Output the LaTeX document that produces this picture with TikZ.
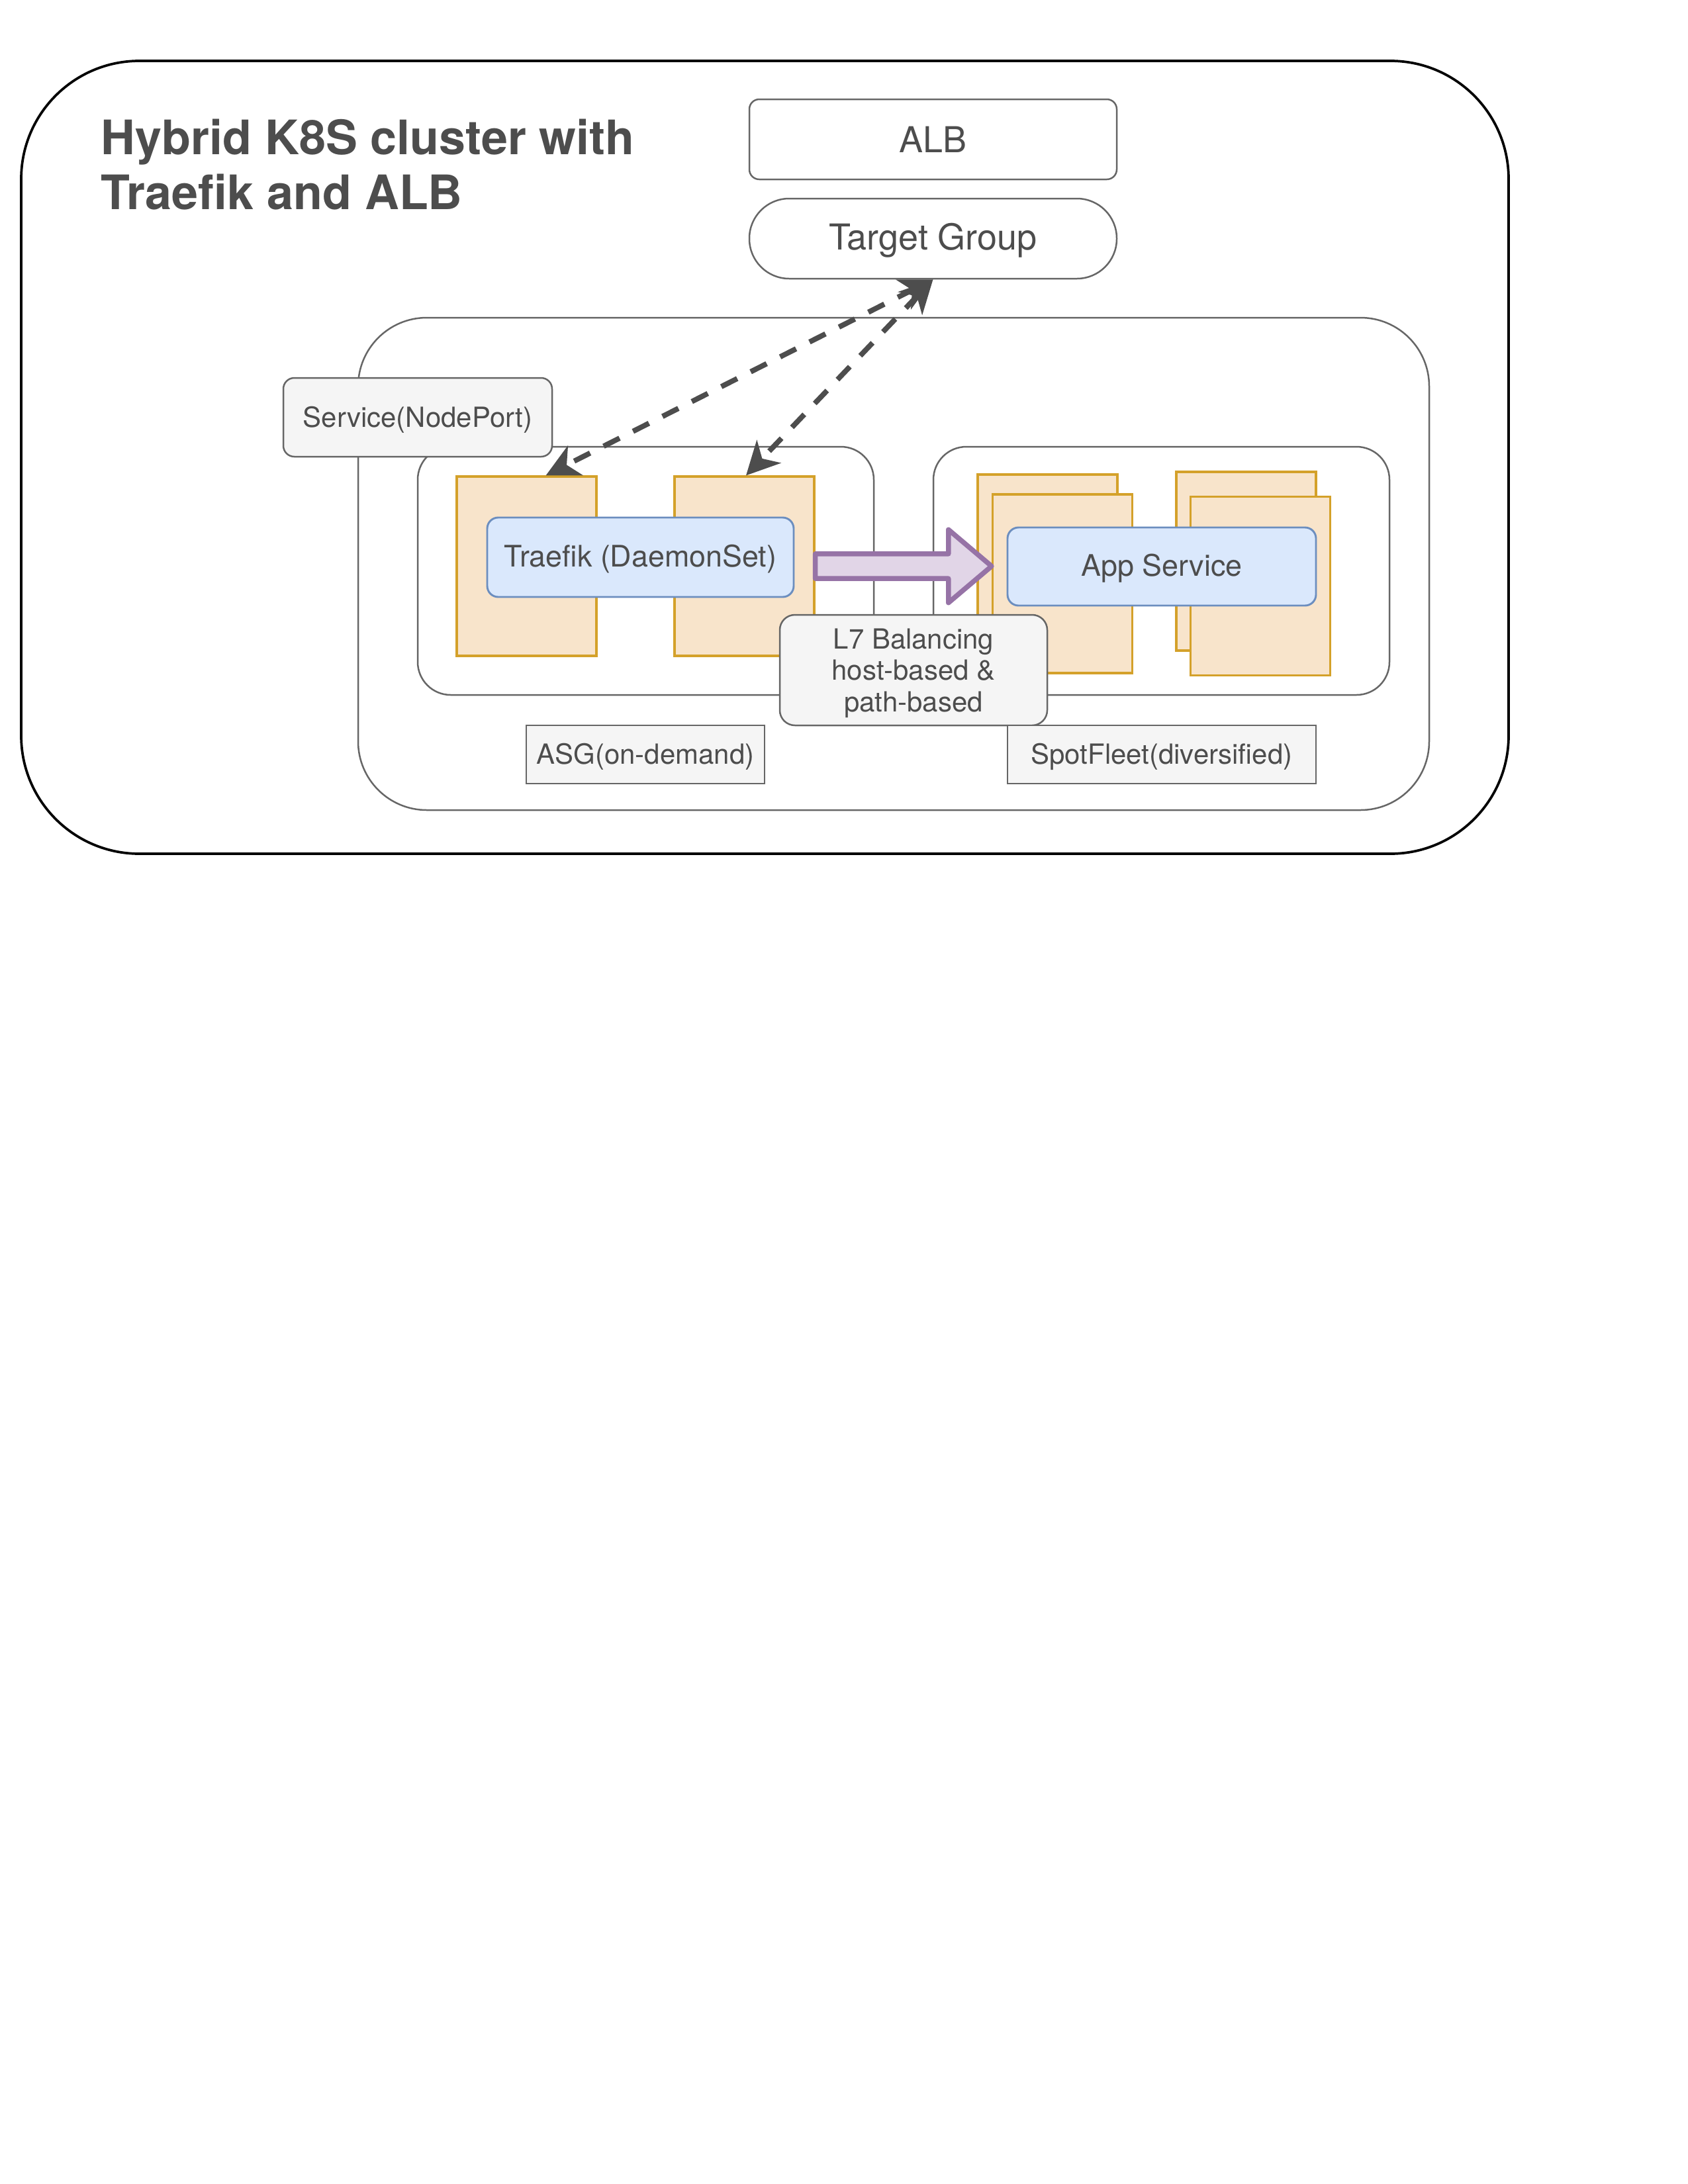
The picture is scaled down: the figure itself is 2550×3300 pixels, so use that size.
\documentclass[tikz,border=0pt]{standalone}
\usepackage{fontspec}
\setmainfont{TeX Gyre Heros}
\usepackage{xcolor}
\definecolor{txtgray}{HTML}{4D4D4D}
\definecolor{linegray}{HTML}{666666}
\definecolor{taggray}{HTML}{F5F5F5}
\definecolor{podfill}{HTML}{F8E4CB}
\definecolor{podline}{HTML}{D4A12A}
\definecolor{svcfill}{HTML}{DAE8FC}
\definecolor{svcline}{HTML}{6C8EBF}
\definecolor{flowfill}{HTML}{E1D5E7}
\definecolor{flowline}{HTML}{9673A6}
\usetikzlibrary{positioning,calc,arrows.meta}
\newdimen\pxu \pxu=0.2409pt
\tikzset{
  wh/.style 2 args={minimum width=#1*\pxu, minimum height=#2*\pxu},
  group/.style={draw=linegray, line width=0.6pt, fill=white, inner sep=0pt},
  pod/.style={draw=podline, fill=podfill, line width=0.75pt, inner sep=0pt},
  svc/.style={draw=svcline, fill=svcfill, line width=0.7pt, rounded corners=4pt, inner sep=0pt, text=txtgray, text height=0.9em, text depth=0.2em, font=\fontsize{10.8}{13}\selectfont},
  tag/.style={draw=linegray, fill=taggray, line width=0.6pt, inner sep=0pt, text=txtgray, text height=0.9em, text depth=0.2em, font=\fontsize{10.1}{11.4}\selectfont},
  lb/.style={draw=linegray, fill=white, line width=0.6pt, inner sep=0pt, text=txtgray, text height=0.95em, text depth=0.15em, font=\fontsize{13}{15.6}\selectfont},
  link/.style={draw=txtgray, line width=1.9pt, dash pattern=on 6.5pt off 5.5pt, {Stealth[length=12pt,width=12pt,inset=3.5pt]}-{Stealth[length=12pt,width=12pt,inset=3.5pt]}},
  flowarrow/.style={draw=flowline, fill=flowfill, line width=1.8pt, line join=round}
}
\begin{document}
\begin{tikzpicture}[x=0.2409pt, y=-0.2409pt]
			\useasboundingbox (0,0) rectangle (2550,3300);
			% cluster frame and title
			\node[draw=black, line width=0.9pt, rounded corners=43pt, wh={2247}{1198}] (cluster) at (1155.5,691) {};
			\node[anchor=base west, inner sep=0pt, text=txtgray, font=\fontsize{17.3}{20.2}\selectfont\bfseries] (title1) at (152,233) {Hybrid K8S cluster with};
			\node[anchor=base west, inner sep=0pt, text=txtgray, font=\fontsize{17.3}{20.2}\selectfont\bfseries] (title2) at ([yshift=-20.2pt]title1.base west) {Traefik and ALB};
			% load balancer
			\node[lb, text depth=0pt, rounded corners=3.6pt, wh={555}{121}] (alb) at (1409.5,210.5) {ALB};
			\node[lb, rounded corners=14.5pt, wh={555}{121}] (tg) at (1409.5,360.5) {Target Group};
			% node groups
			\node[group, rounded corners=25pt, wh={1618}{744}] (k8s) at (1350,852) {};
			\node[group, rounded corners=12pt, wh={689}{375}] (asggrp) at (975.5,862.5) {};
			\node[group, rounded corners=12pt, wh={689}{375}] (spotgrp) at (1754.5,862.5) {};
			\node[tag, rounded corners=4pt, wh={406}{119}] (nodeport) at (631,630.5) {Service(NodePort)};
			% on-demand instances
			\node[pod, wh={211}{271}] (o1) at (795.5,855.5) {};
			\node[pod, wh={211}{271}] (o2) at (1124.5,855.5) {};
			\node[svc, wh={463}{120}] (traefik) at (967.5,842) {Traefik (DaemonSet)};
			% spot instances
			\node[pod, wh={211}{270}] (bl) at (1582.5,852) {};
			\node[pod, wh={211}{270}] (fl) at (1605,882) {};
			\node[pod, wh={211}{270}] (br) at (1882.5,848) {};
			\node[pod, wh={211}{270}] (fr) at (1904,885.5) {};
			\node[svc, wh={466}{118}] (app) at (1755,856) {App Service};
			% L7 routing
			\draw[flowarrow] let \p1=(o2.east), \p2=(fl.west) in
				(\x1,\y1+4.5pt) -- (\x2-15.7pt,\y1+4.5pt) -- (\x2-15.7pt,\y1+13.3pt) -- (\x2,\y1)
				-- (\x2-15.7pt,\y1-13.3pt) -- (\x2-15.7pt,\y1-4.5pt) -- (\x1,\y1-4.5pt) -- cycle;
			\node[tag, text height=, text depth=, rounded corners=5.5pt, wh={404}{167}] (l7) at (1380,1012.5)
				{\raisebox{-1.4pt}[\height][\depth]{\begin{tabular}{@{}c@{}}L7 Balancing\\host-based \&\\path-based\end{tabular}}};
			\node[tag, wh={360}{88}] (asg) at (975,1140) {ASG(on-demand)};
			\node[tag, wh={466}{88}] (spot) at (1755,1140) {SpotFleet(diversified)};
			% target group to traefik
			\draw[link] (tg.south) -- ([xshift=7pt]o1.north);
			\draw[link] (tg.south) -- ([xshift=0.6pt]o2.north);
		\end{tikzpicture}
\end{document}
